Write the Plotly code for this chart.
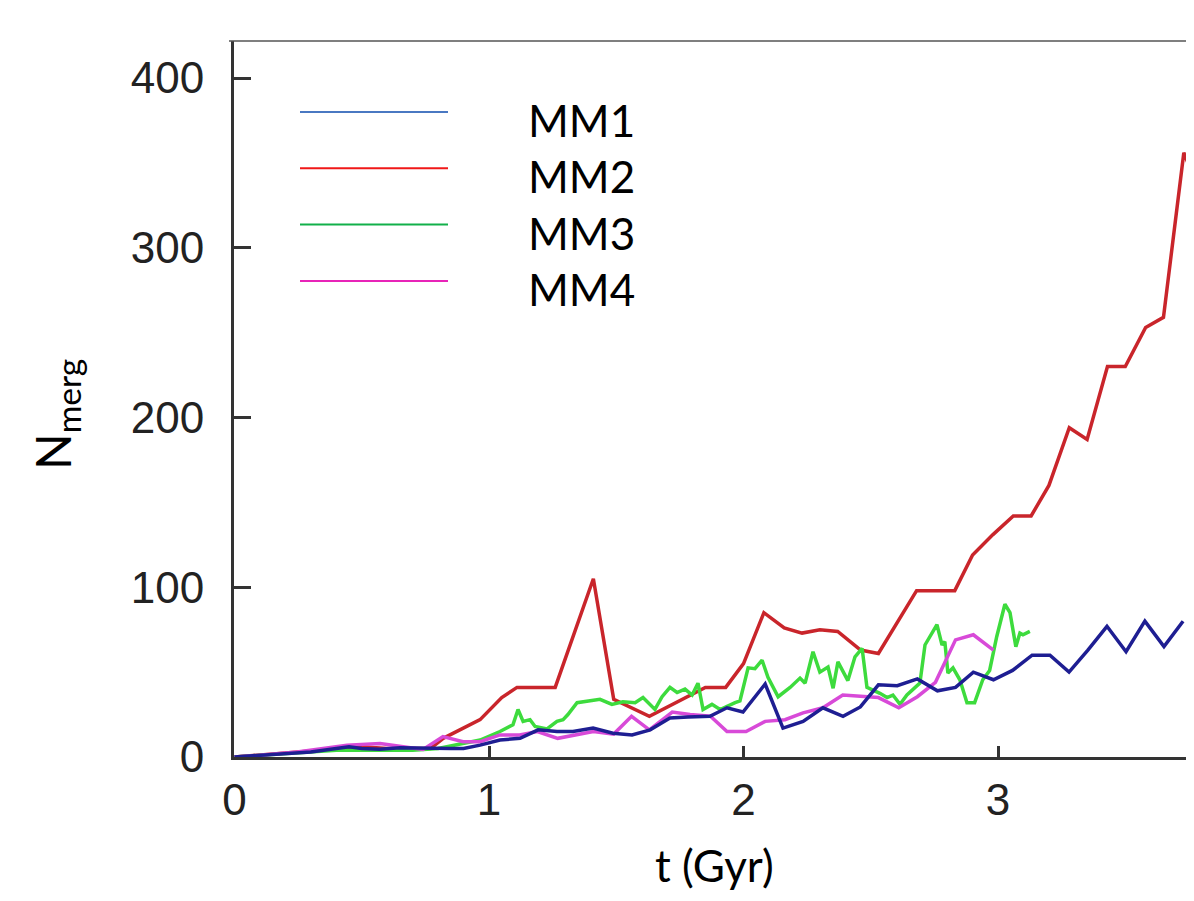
import plotly.graph_objects as go

# ---------------- data ----------------
series_names = ["MM1", "MM2", "MM3", "MM4"]

t_mm1 = [0, 0.1, 0.2, 0.3, 0.4, 0.45, 0.5, 0.57, 0.65, 0.75, 0.85, 0.9, 0.965, 1.043, 1.122,
         1.193, 1.267, 1.330, 1.409, 1.487, 1.562, 1.633, 1.711, 1.782, 1.868, 1.935, 1.998,
         2.085, 2.155, 2.234, 2.312, 2.391, 2.459, 2.530, 2.604, 2.683, 2.762, 2.833, 2.903,
         2.982, 3.057, 3.134, 3.204, 3.279, 3.353, 3.428, 3.503, 3.577, 3.652, 3.727]
n_mm1 = [0, 1, 2, 3, 5, 6, 5, 4.5, 5.5, 5, 5, 5, 7, 10, 11,
         16, 15, 15, 17, 14, 13, 16, 23, 23.5, 24, 29, 26.5,
         43, 17, 21, 29, 24, 29.5, 42.5, 42, 46, 39, 41, 50,
         45.5, 51, 60, 60, 50, 63, 77, 62, 80, 65, 80]

t_mm2 = [0, 0.1, 0.2, 0.3, 0.4, 0.5, 0.6, 0.7, 0.77, 0.82, 0.965, 1.05, 1.11, 1.26, 1.41,
         1.49, 1.63, 1.85, 1.93, 2.0, 2.08, 2.16, 2.23, 2.30, 2.37, 2.46, 2.53, 2.68, 2.83,
         2.90, 2.98, 3.06, 3.13, 3.20, 3.28, 3.35, 3.43, 3.50, 3.58, 3.65, 3.73, 3.80]
n_mm2 = [0, 1, 2, 3.5, 5, 6, 5, 5, 5, 11, 22, 35, 41, 41, 105,
         34, 24, 41, 41, 55, 85, 76, 73, 75, 74, 63, 61, 98, 98,
         119, 131, 142, 142, 160, 194, 187, 230, 230, 253, 259, 356, 330]

t_mm3 = [0, 0.1, 0.2, 0.3, 0.4, 0.5, 0.6, 0.7, 0.8, 0.9, 0.965, 1.043, 1.071, 1.094, 1.114,
         1.134, 1.161, 1.181, 1.228, 1.267, 1.291, 1.310, 1.346, 1.397, 1.436, 1.483, 1.526,
         1.574, 1.605, 1.652, 1.680, 1.711, 1.739, 1.770, 1.798, 1.821, 1.841, 1.876, 1.908,
         1.967, 1.986, 2.018, 2.045, 2.073, 2.096, 2.136, 2.183, 2.222, 2.242, 2.273, 2.300,
         2.332, 2.352, 2.371, 2.41, 2.438, 2.466, 2.485, 2.536, 2.564, 2.587, 2.615, 2.642,
         2.693, 2.713, 2.760, 2.780, 2.791, 2.803, 2.823, 2.850, 2.878, 2.908, 2.94, 2.967,
         2.995, 3.027, 3.047, 3.070, 3.086, 3.098, 3.125]
n_mm3 = [0, 1, 2, 3, 4, 4, 4, 4, 5, 8, 10, 15, 17, 19, 28,
         21, 22, 18, 16.5, 21, 22, 25, 32, 33, 34, 31, 32.5,
         32, 35, 28, 35.5, 41, 38, 40, 36.5, 43.5, 28, 31, 28,
         32, 33, 52.5, 52, 57, 47, 35.5, 41, 46.5, 43.5, 62, 50,
         53, 40.5, 56, 45, 59, 64, 41, 37.5, 35, 36.5, 31, 36.5,
         43.5, 66, 78, 66, 68, 49.5, 52.5, 45.5, 32, 32, 45.5, 51,
         71, 90, 85, 65, 73, 72, 74]

t_mm4 = [0, 0.1, 0.246, 0.35, 0.442, 0.572, 0.639, 0.741, 0.819, 0.898, 0.965, 1.043, 1.12,
         1.19, 1.27, 1.33, 1.41, 1.49, 1.56, 1.63, 1.72, 1.79, 1.87, 1.935, 2.01, 2.085,
         2.163, 2.234, 2.312, 2.39, 2.46, 2.53, 2.61, 2.683, 2.754, 2.833, 2.903, 2.982]
n_mm4 = [0, 1, 3, 5, 7, 8, 6.5, 4.5, 12, 9, 9, 13, 13,
         15, 11, 12.5, 15, 13.5, 24, 16, 26.5, 25, 24, 15, 15, 21,
         22, 26, 29, 36.5, 36, 35, 29, 35.5, 44, 69, 72, 63]

x_tick_vals = [0, 1, 2, 3]
y_tick_vals = [0, 100, 200, 300, 400]

# ---------------- styling ----------------
line_colors = {"MM1": "#1e1e92", "MM2": "#c9252b", "MM3": "#3ddb3d", "MM4": "#d84ad8"}
legend_colors = {"MM1": "#4a78c2", "MM2": "#f01818", "MM3": "#12b04a", "MM4": "#e824b8"}
series = {"MM1": (t_mm1, n_mm1), "MM2": (t_mm2, n_mm2),
          "MM3": (t_mm3, n_mm3), "MM4": (t_mm4, n_mm4)}
draw_order = ["MM2", "MM3", "MM4", "MM1"]

OFF = 8  # page body margin
W, H = 1194 - OFF, 885
L, R, T = 234 - OFF, 0, 41 - OFF
B = H - T - 716
PW, PH = W - L - R, H - T - B


def px(xp):
    return (xp - OFF - L) / PW


def py(yp):
    return (H - B + OFF - yp) / PH


fig = go.Figure()
for name in draw_order:
    t, n = series[name]
    fig.add_trace(go.Scatter(x=t, y=n, mode="lines", name=name,
                             line=dict(color=line_colors[name], width=3.5),
                             showlegend=False))

tick_font = dict(family="Liberation Sans, Arial, sans-serif", size=44, color="#222")
label_font = dict(family="Lato, Open Sans, sans-serif", size=44, color="#000")

fig.update_layout(
    width=W, height=H,
    margin=dict(l=L, r=R, t=T, b=B, pad=0),
    plot_bgcolor="white", paper_bgcolor="white",
    showlegend=False,
)
fig.update_xaxes(range=[-0.002, 3.770], tickvals=x_tick_vals,
                 ticktext=[str(v) for v in x_tick_vals],
                 ticks="inside", ticklen=11, tickwidth=2.5, tickcolor="#333",
                 showline=True, linecolor="#333", linewidth=3,
                 showgrid=False, zeroline=False, tickfont=tick_font,
                 ticklabelstandoff=2)
fig.update_yaxes(range=[0, 421.8], tickvals=y_tick_vals,
                 ticktext=[str(v) for v in y_tick_vals],
                 ticks="inside", ticklen=17, tickwidth=2.5, tickcolor="#333",
                 showline=True, linecolor="#333", linewidth=3,
                 showgrid=False, zeroline=False, tickfont=tick_font,
                 ticklabelstandoff=18)

# top frame line
fig.add_shape(type="line", xref="paper", yref="paper", x0=px(229), x1=1, y0=1, y1=1,
              line=dict(color="#555", width=1.5))

# axis titles
fig.add_annotation(text="t (Gyr)", xref="paper", yref="paper", x=px(714), y=py(865),
                   xanchor="center", yanchor="middle", showarrow=False, font=label_font)
fig.add_annotation(text="N<sub>merg</sub>", xref="paper", yref="paper", x=px(56), y=py(415),
                   xanchor="center", yanchor="middle", showarrow=False, textangle=-90,
                   font=dict(family="Lato, Open Sans, sans-serif", size=48, color="#000"))

# hand-drawn style legend
for i, name in enumerate(series_names):
    yl = 112 + 56.3 * i
    fig.add_shape(type="line", xref="paper", yref="paper", x0=px(300), x1=px(448),
                  y0=py(yl), y1=py(yl), line=dict(color=legend_colors[name], width=2))
    fig.add_annotation(text=name, xref="paper", yref="paper", x=px(526), y=py(yl + 8),
                       xanchor="left", yanchor="middle", showarrow=False, font=label_font)

fig.write_html("out.html")
